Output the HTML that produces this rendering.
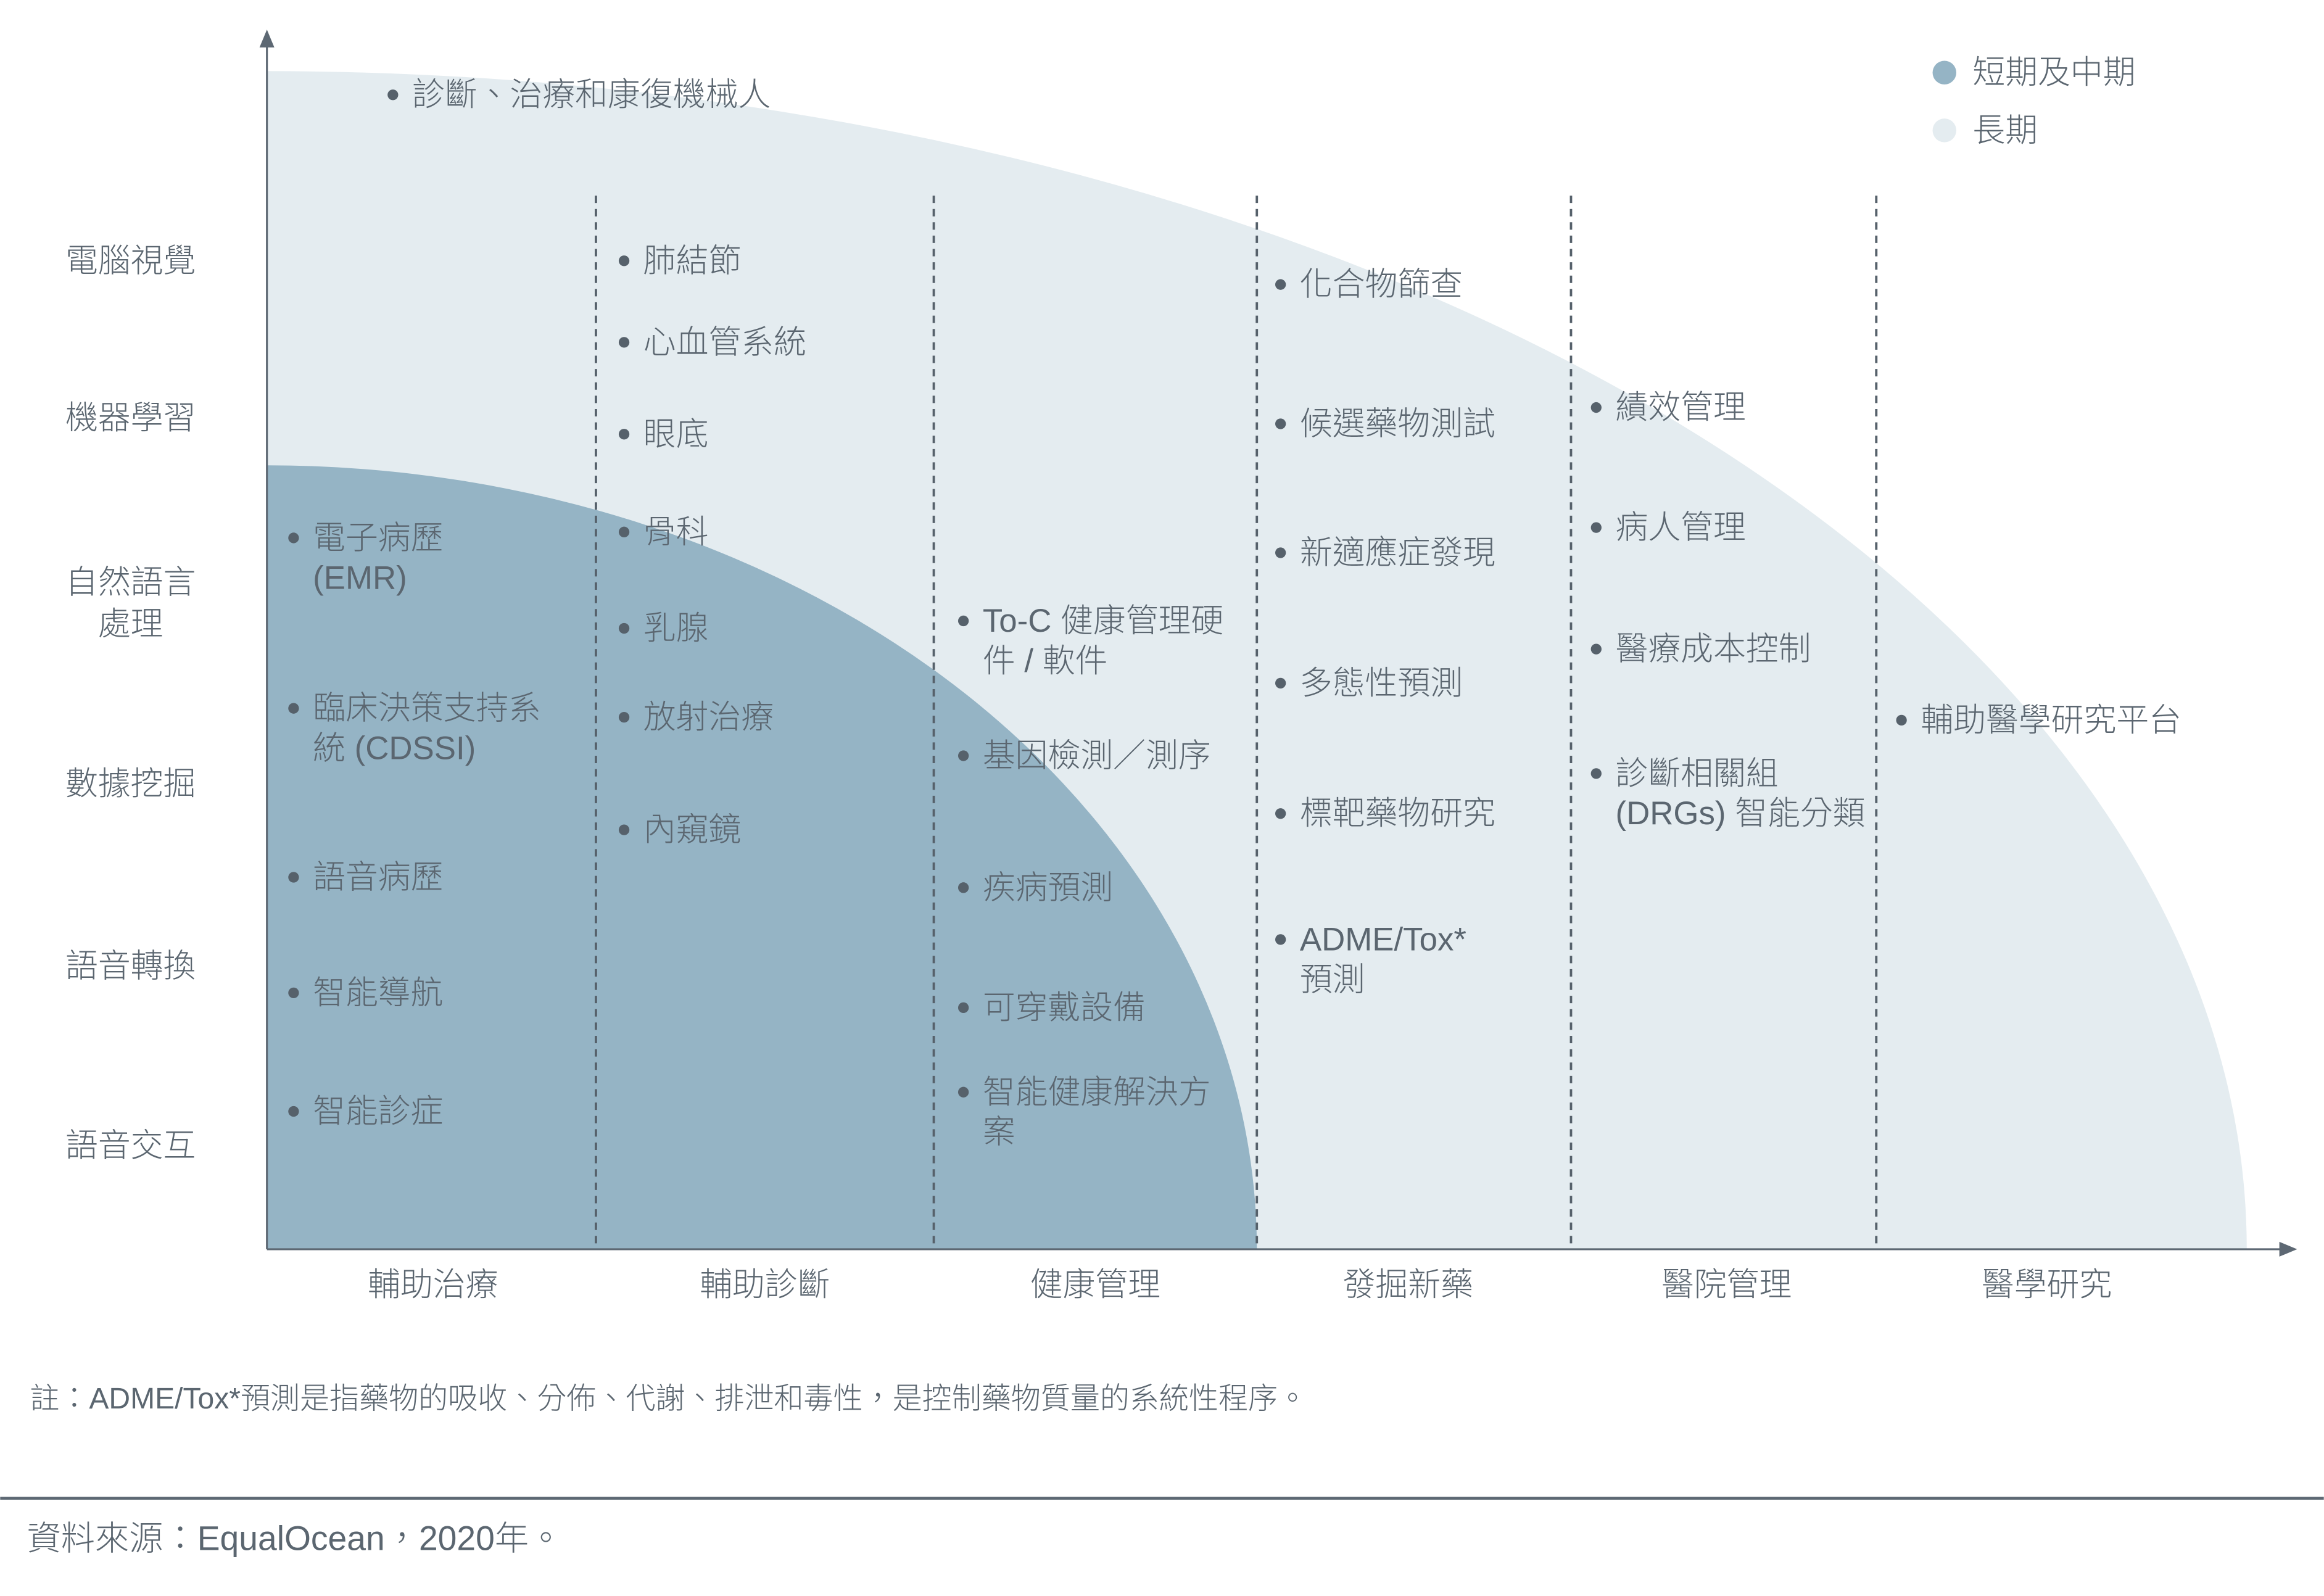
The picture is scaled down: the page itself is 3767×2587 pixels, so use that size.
<!DOCTYPE html>
<html><head><meta charset="utf-8"><style>
html,body{margin:0;padding:0;background:#fff;}
svg{display:block;}
text{font-family:"Liberation Sans","Noto Sans CJK TC",sans-serif;fill:#5b6670;font-weight:300;}
</style></head><body>
<svg id="chart" width="3767" height="2587" viewBox="0 0 1568 1077" xmlns="http://www.w3.org/2000/svg">
<g id="regions"></g>
<g id="grid"></g>
<g id="axes">
  <line x1="180" y1="843" x2="180" y2="30" stroke="#5d6873" stroke-width="1.3"/>
  <polygon points="175,32 185,32 180,20" fill="#5d6873"/>
  <line x1="180" y1="843" x2="1540" y2="843" stroke="#5d6873" stroke-width="1.3"/>
  <polygon points="1538,838 1538,848 1550,843" fill="#5d6873"/>
</g>
<g id="ylabels"></g>
<g id="xlabels"></g>
<g id="items"></g>
<g>
  <circle cx="1312" cy="49" r="8" fill="#95b4c5"/>
  <text x="1331" y="49" font-size="22" dominant-baseline="central">短期及中期</text>
  <circle cx="1312" cy="88" r="8" fill="#e4ecf0"/>
  <text x="1331" y="88" font-size="22" dominant-baseline="central">長期</text>
</g>
<text x="20" y="944" font-size="20" dominant-baseline="central">註：ADME/Tox*預測是指藥物的吸收、分佈、代謝、排泄和毒性，是控制藥物質量的系統性程序。</text>
<line x1="0" y1="1011" x2="1568" y2="1011" stroke="#5d6873" stroke-width="2"/>
<text x="18" y="1038" font-size="23" dominant-baseline="central">資料來源：EqualOcean，2020年。</text>
</svg>
<script>
const NS="http://www.w3.org/2000/svg";
const yLabels=[["電腦視覺"],["機器學習"],["自然語言","處理"],["數據挖掘"],["語音轉換"],["語音交互"]];
const yLabelPos=[176,282,393,529,652,773];
const xCategories=["輔助治療","輔助診斷","健康管理","發掘新藥","醫院管理","醫學研究"];
const colBounds=[180,402,630,848,1060,1266,1500];
const col1Items=[["電子病歷","(EMR)"],["臨床決策支持系","統 (CDSSI)"],["語音病歷"],["智能導航"],["智能診症"]];
const col1Y=[363,478,592,670,750];
const col2Items=[["肺結節"],["心血管系統"],["眼底"],["骨科"],["乳腺"],["放射治療"],["內窺鏡"]];
const col2Y=[176,231,293,359,424,484,560];
const col3Items=[["To-C 健康管理硬","件 / 軟件"],["基因檢測／測序"],["疾病預測"],["可穿戴設備"],["智能健康解決方","案"]];
const col3Y=[419,510,599,680,737];
const col4Items=[["化合物篩查"],["候選藥物測試"],["新適應症發現"],["多態性預測"],["標靶藥物研究"],["ADME/Tox*","預測"]];
const col4Y=[192,286,373,461,549,634];
const col5Items=[["績效管理"],["病人管理"],["醫療成本控制"],["診斷相關組","(DRGs) 智能分類"]];
const col5Y=[275,356,438,522];
const col6Items=[["輔助醫學研究平台"]];
const col6Y=[486];
const topItems=[["診斷、治療和康復機械人"]];
const topY=[64];
const regionShort={rx:668,ry:529};
const regionLong={rx:1336,ry:795};
const ox=180, oy=843;

function el(tag,attrs,parent){const e=document.createElementNS(NS,tag);for(const k in attrs)e.setAttribute(k,attrs[k]);parent.appendChild(e);return e;}
const regions=document.getElementById('regions');
function quarter(r){return `M${ox},${oy} L${ox},${oy-r.ry} A${r.rx},${r.ry} 0 0 1 ${ox+r.rx},${oy} Z`;}
let p=el('path',{d:quarter(regionLong),fill:'#e4ecf0'},regions);


p=el('path',{d:quarter(regionShort),fill:'#95b4c5'},regions);



const grid=document.getElementById('grid');
for(let i=1;i<6;i++){
  const l=el('line',{x1:colBounds[i],y1:132,x2:colBounds[i],y2:843,stroke:'#56616b','stroke-width':1.6,'stroke-dasharray':'5,4'},grid);
  
  
}
const yl=document.getElementById('ylabels');
yLabels.forEach((lines,i)=>{
  lines.forEach((s,j)=>{
    const t=el('text',{x:88,y:yLabelPos[i]+j*28,'font-size':22,'text-anchor':'middle','dominant-baseline':'central'},yl);
    t.textContent=s;
    
    
  });
});
const xlc=[292,516,739,950,1165,1381];
const xl=document.getElementById('xlabels');
xCategories.forEach((s,i)=>{
  const t=el('text',{x:xlc[i],y:867,'font-size':22,'text-anchor':'middle','dominant-baseline':'central'},xl);
  t.textContent=s;
  
  
});
const items=document.getElementById('items');
function addItems(list,ys,bx){
  list.forEach((lines,i)=>{
    const c=el('circle',{cx:bx,cy:ys[i],r:3.6,fill:'#56616b'},items);
    
    
    lines.forEach((s,j)=>{
      const t=el('text',{x:bx+13,y:ys[i]+j*27,'font-size':22,'dominant-baseline':'central'},items);
      t.textContent=s;
      
      
    });
  });
}
addItems(topItems,topY,265);
addItems(col1Items,col1Y,198);
addItems(col2Items,col2Y,421);
addItems(col3Items,col3Y,650);
addItems(col4Items,col4Y,864);
addItems(col5Items,col5Y,1077);
addItems(col6Items,col6Y,1283);
</script>
</body></html>
